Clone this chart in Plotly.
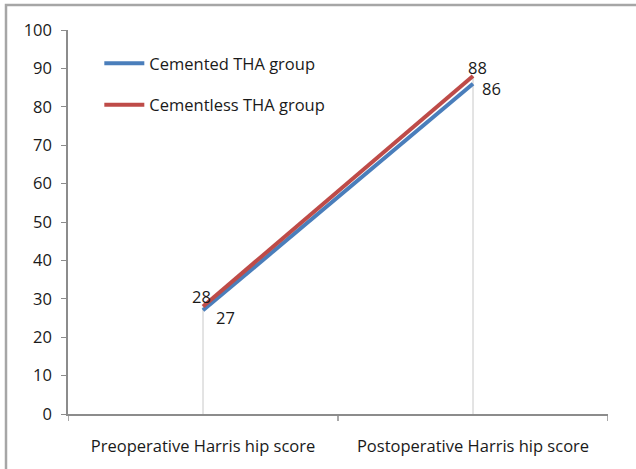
import plotly.graph_objects as go

categories = ["Preoperative Harris hip score", "Postoperative Harris hip score"]
cemented = [27, 86]
cementless = [28, 88]
series_names = ["Cemented THA group", "Cementless THA group"]
y_ticks = [0, 10, 20, 30, 40, 50, 60, 70, 80, 90, 100]

BLUE = "#4A7EBB"
RED = "#BE4B48"
FONT = "Open Sans"
FS = 16.5

fig = go.Figure()

# drop lines
for i, cat in enumerate(categories):
    top = max(cemented[i], cementless[i])
    fig.add_trace(go.Scatter(x=[i, i], y=[0, top], mode="lines",
                             line=dict(color="#C8C8C8", width=1),
                             showlegend=False, hoverinfo="skip"))

fig.add_trace(go.Scatter(x=[0, 1], y=cemented, mode="lines",
                         name=series_names[0], legendgroup="a",
                         line=dict(color=BLUE, width=4)))
fig.add_trace(go.Scatter(x=[0, 1], y=cementless, mode="lines",
                         name=series_names[1], legendgroup="b",
                         line=dict(color=RED, width=4)))

# data labels
label_offsets_cemented = [(22, -7), (18, -5)]
label_offsets_cementless = [(-2, 10), (4, 9)]
for i in range(2):
    dx, dy = label_offsets_cemented[i]
    fig.add_annotation(x=i, y=cemented[i], text=str(cemented[i]), showarrow=False,
                       xshift=dx, yshift=dy, font=dict(size=FS, color="#1a1a1a"))
    dx, dy = label_offsets_cementless[i]
    fig.add_annotation(x=i, y=cementless[i], text=str(cementless[i]), showarrow=False,
                       xshift=dx, yshift=dy, font=dict(size=FS, color="#1a1a1a"))

fig.update_layout(
    width=636, height=469,
    margin=dict(l=68, r=28, t=30, b=55),
    paper_bgcolor="white", plot_bgcolor="white",
    font=dict(family=FONT, size=FS, color="#1a1a1a"),
    showlegend=True,
    legend=dict(x=0.058, y=0.958, xanchor="left", yanchor="top",
                bgcolor="rgba(0,0,0,0)", font=dict(size=FS, color="#1a1a1a"),
                tracegroupgap=17, itemwidth=40),
    xaxis=dict(range=[-0.5, 1.5], tickvals=[0, 1], ticktext=categories,
               showgrid=False, zeroline=False, showline=True,
               linecolor="#8C8C8C", linewidth=1.5,
               ticks="", tickfont=dict(size=FS), ticklabelstandoff=16),
    yaxis=dict(range=[0, 100], tickvals=y_ticks, showgrid=False,
               zeroline=False, showline=True, linecolor="#8C8C8C",
               linewidth=1.5, ticks="outside", ticklen=5,
               tickcolor="#8C8C8C", tickfont=dict(size=FS), ticklabelstandoff=6),
)

# category boundary ticks on x axis
for xv in [-0.5, 0.5, 1.5]:
    fig.add_shape(type="line", xref="x", yref="paper", x0=xv, x1=xv,
                  y0=0, y1=-0.018, line=dict(color="#8C8C8C", width=1.5))

# outer chart border
fig.add_shape(type="rect", xref="paper", yref="paper",
              x0=(6 - 68) / 540, x1=1.2, y0=-0.3, y1=(413 - 4) / 384,
              line=dict(color="#A6A6A6", width=2.5), layer="below")

fig.write_html("out.html", config={"displayModeBar": False},
               post_script="document.body.style.margin='0';document.body.style.padding='0';")
